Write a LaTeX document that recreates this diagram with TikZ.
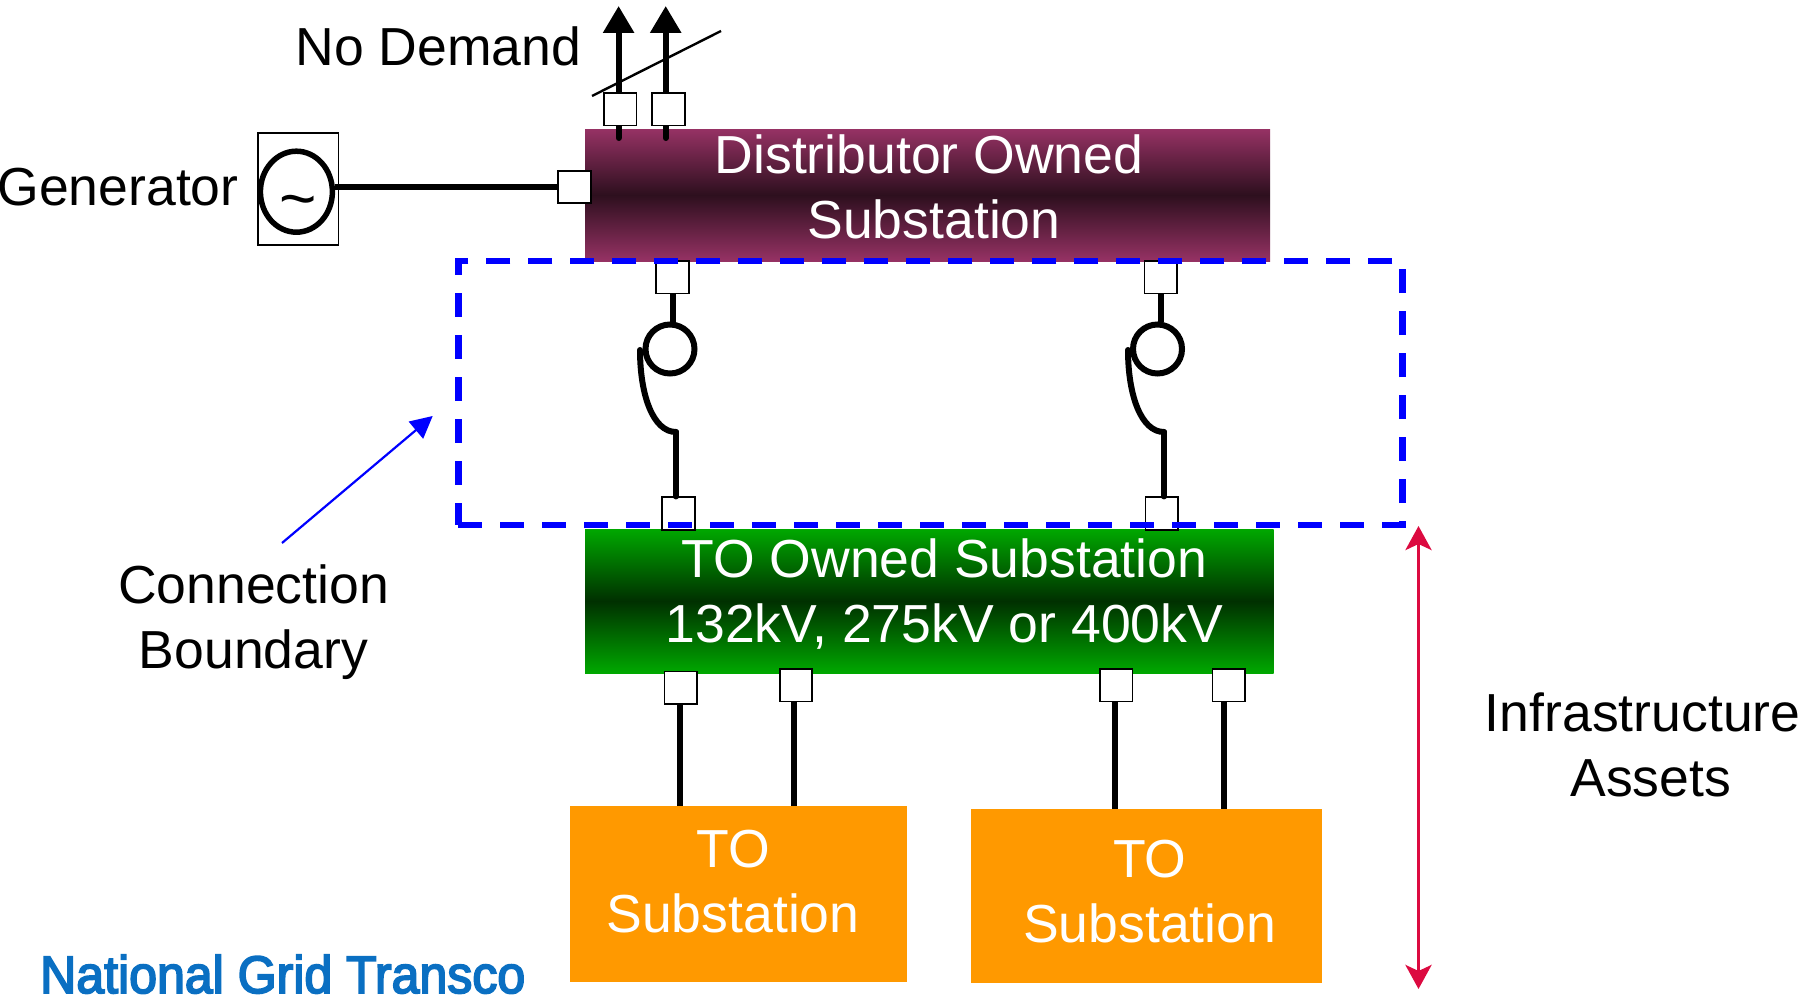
\documentclass[tikz,border=0pt]{standalone}
\usepackage{fontspec}
\setmainfont{Liberation Sans}
\newfontfamily\logofont[FakeBold=3.5]{Liberation Sans}
\usetikzlibrary{arrows.meta,shapes.geometric}
\definecolor{plumA}{HTML}{963264}
\definecolor{plumB}{HTML}{2D0F1E}
\definecolor{greenA}{HTML}{00A800}
\definecolor{greenB}{HTML}{003000}
\definecolor{orangeBox}{HTML}{FF9900}
\definecolor{redArrow}{HTML}{DC0A40}
\definecolor{logoBlue}{HTML}{0A6FC2}
\tikzset{
  x=1pt,y=-1pt,
  txt/.style={font=\fontsize{53.55}{64.5}\selectfont,align=center,anchor=base,inner sep=0pt},
  wtxt/.style={txt,text=white},
  port/.style={draw=black,fill=white,line width=1.6pt,minimum size=32.5pt,inner sep=0pt},
  wire/.style={draw=black,line width=6pt},
  subst/.style={anchor=north west,inner sep=0pt,outer sep=0pt,minimum width=#1},
  dir/.style={wire,line cap=round,-{Triangle[length=27pt,width=30pt]}},
  switchring/.style={circle,draw=black,line width=6pt,fill=white,minimum size=49pt,inner sep=0pt}
}
\begin{document}
\begin{tikzpicture}
\useasboundingbox (0,0) rectangle (1809,998);
% substations
\node[subst=685pt,minimum height=132pt,top color=plumA,bottom color=plumA,middle color=plumB] (dist) at (585,129) {};
\node[subst=688.7pt,minimum height=144pt,top color=greenA,bottom color=greenA,middle color=greenB] (tosub) at (585,529) {};
\node[subst=336.8pt,minimum height=175.4pt,fill=orangeBox] (ts1) at (570,806.4) {};
\node[subst=351.5pt,minimum height=174.3pt,fill=orangeBox] (ts2) at (970.5,808.7) {};
% generator
\node[draw=black,line width=1.6pt,minimum width=80.5pt,minimum height=112pt,inner sep=0pt] (genbox) at (298.3,188.9) {};
\node[ellipse,draw=black,line width=5.5pt,minimum width=72pt,minimum height=81pt,inner sep=0pt] (gen) at (296.4,191.7) {};
\node[inner sep=0pt,anchor=base,font=\fontsize{64}{64}\selectfont] (tilde) at (298,220) {\textasciitilde};
% connectors under the ports
\coordinate (o1) at (618.6,138);
\coordinate (o2) at (665.7,138);
\coordinate (t1) at (618.6,6);
\coordinate (t2) at (665.7,6);
\draw[dir] (o1) -- (t1);
\draw[dir] (o2) -- (t2);
\coordinate (sA) at (592,96);
\coordinate (sB) at (721,31);
\draw[line width=2.4pt] (sA) -- (sB);
% ports
\node[port] (p1) at (620.3,109.4) {};
\node[port] (p2) at (668.5,109.4) {};
\node[port] (pg) at (574.5,187) {};
\draw[wire] (pg.west -| gen.east) -- (pg.west);
\node[port] (a1) at (672.5,277.3) {};
\node[port] (a2) at (1160.6,277.3) {};
\node[port] (b1) at (678.5,513.5) {};
\node[port] (b2) at (1161.8,513.5) {};
\node[port] (c1) at (680.7,687.6) {};
\node[port] (c2) at (796,685.3) {};
\node[port] (c3) at (1116.2,685.3) {};
\node[port] (c4) at (1228.7,685.3) {};
% switch assemblies
\node[switchring] (r1) at (670,349) {};
\node[switchring] (r2) at (1157.5,349) {};
\coordinate (j1) at (676,432);
\coordinate (k1) at (640,350);
\coordinate (j2) at (1164,432);
\coordinate (k2) at (1128,350);
\draw[wire] (a1.south) -- (a1.south |- r1.north);
\draw[wire] (a2.south) -- (a2.south |- r2.north);
\draw[wire,line cap=round] (k1) .. controls (640,395) and (653,432) .. (j1);
\draw[wire,line cap=round] (k2) .. controls (1128,395) and (1141,432) .. (j2);
\draw[wire,line cap=round] (j1) -- (j1 |- b1.north);
\draw[wire,line cap=round] (j2) -- (j2 |- b2.north);
% lower feeders
\coordinate (d1) at (680,704);
\coordinate (d2) at (794.3,702);
\coordinate (d3) at (1114.5,702);
\coordinate (d4) at (1224,702);
\draw[wire] (d1) -- (d1 |- ts1.north);
\draw[wire] (d2) -- (d2 |- ts1.north);
\draw[wire] (d3) -- (d3 |- ts2.north);
\draw[wire] (d4) -- (d4 |- ts2.north);
% boundary
\coordinate (bl) at (458.3,525);
\coordinate (br) at (1402.3,525);
\coordinate (tr) at (1402.3,261);
\coordinate (tl) at (458.3,261);
\draw[blue,line width=6.5pt,dash pattern=on 24pt off 18pt] (bl) -- (br) -- (tr) -- (tl) -- (bl);
% arrows
\coordinate (ra) at (1418.5,526);
\coordinate (rb) at (1418.5,989);
\draw[redArrow,line width=3.6pt,{Stealth[length=24pt,width=26pt,inset=6pt]}-{Stealth[length=24pt,width=26pt,inset=6pt]}] (ra) -- (rb);
\coordinate (ba) at (282,543);
\coordinate (bb) at (432.7,416);
\draw[blue,line width=2.2pt,-{Triangle[length=22pt,width=22pt]}] (ba) -- (bb);
% labels
\node[txt] (nd) at (438.4,66) {No Demand};
\node[txt] (gn) at (118,205.5) {Generator};
\node[wtxt] (dt) at (929,238) {Distributor Owned\\\hspace*{10pt}Substation};
\node[wtxt] (tt) at (944.4,642) {TO Owned Substation\\132kV, 275kV or 400kV};
\node[wtxt] (t1t) at (733,932) {TO\\Substation};
\node[wtxt] (t2t) at (1149.7,942) {TO\\Substation};
\node[txt] (inf) at (1642.7,796) {Infrastructure\\\hspace*{16pt}Assets};
\node[txt] (cb) at (253.5,668) {Connection\\Boundary};
\node[inner sep=0pt,anchor=base west,text=logoBlue,font=\fontsize{52.7}{52.7}\logofont,xscale=0.95,transform shape] (logo) at (40,993) {National Grid Transco};
\end{tikzpicture}
\end{document}
